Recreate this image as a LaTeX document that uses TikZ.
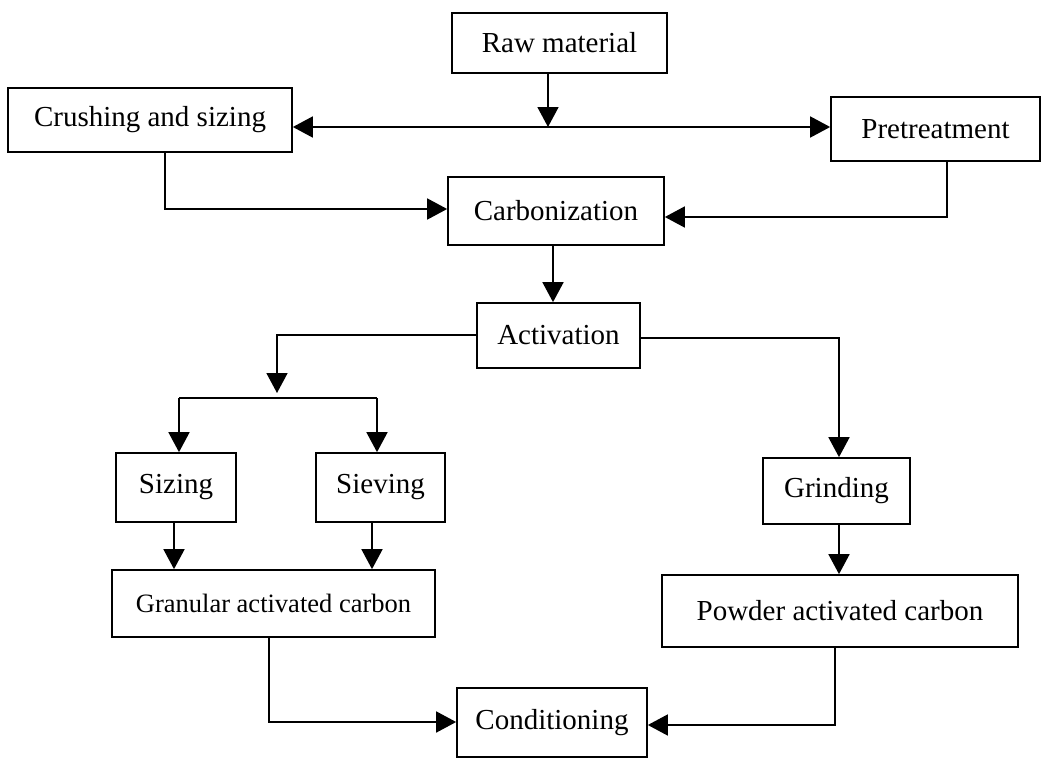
\documentclass[tikz,border=0pt]{standalone}
\usepackage{fontspec}
\setmainfont{Liberation Serif}
\usetikzlibrary{arrows.meta,calc}
\begin{document}
\begin{tikzpicture}[x=1pt,y=-1pt,
  box/.style={draw,line width=1.7pt,rectangle,inner sep=0pt,font=\fontsize{29}{32}\selectfont},
  link/.style={line width=1.7pt},
  arr/.style={line width=1.7pt,-{Triangle[length=20pt,width=21pt]}},
  darr/.style={line width=1.7pt,{Triangle[length=20pt,width=21pt]}-{Triangle[length=20pt,width=21pt]}}]
\useasboundingbox (0,0) rectangle (1047,760);
\node[box,minimum width=215pt,minimum height=60pt] (raw) at (559.5,43) {Raw material};
\node[box,minimum width=284pt,minimum height=64pt] (crush) at (150,120) {Crushing and sizing};
\node[box,minimum width=209pt,minimum height=64pt] (pre) at (935.5,129) {Pretreatment};
\node[box,minimum width=216pt,minimum height=68pt] (carb) at (556,211) {Carbonization};
\node[box,minimum width=163pt,minimum height=65pt] (act) at (558.5,335.5) {Activation};
\node[box,minimum width=120pt,minimum height=69pt] (siz) at (176,487.5) {Sizing};
\node[box,minimum width=129pt,minimum height=69pt] (siev) at (380.5,487.5) {Sieving};
\node[box,minimum width=147pt,minimum height=66pt] (grind) at (836.5,491) {Grinding};
\node[box,minimum width=323pt,minimum height=67pt,font=\fontsize{26.5}{29}\selectfont] (gran) at (273.5,603.5) {Granular activated carbon};
\node[box,minimum width=356pt,minimum height=72pt] (powder) at (840,611) {Powder activated carbon};
\node[box,minimum width=190pt,minimum height=69pt] (cond) at (552,722.5) {Conditioning};
% junction points
\coordinate (j1) at (548,127);
\coordinate (c1) at (165,209);
\coordinate (c2) at (947,217);
\coordinate (c3) at (553,0);
\coordinate (c4) at (277,335);
\coordinate (c5) at (277,393);
\coordinate (c6) at (179,398);
\coordinate (c7) at (377,398);
\coordinate (c8) at (839,338);
\coordinate (c9) at (174,0);
\coordinate (c10) at (372,0);
\coordinate (c11) at (269,722);
\coordinate (c12) at (835,725);
% connectors
\draw[arr] (raw.south -| j1) -- (j1);
\draw[darr] (crush.east |- j1) -- (pre.west |- j1);
\draw[arr] (crush.south -| c1) -- (c1) -- (carb.west |- c1);
\draw[arr] (pre.south -| c2) -- (c2) -- (carb.east |- c2);
\draw[arr] (carb.south -| c3) -- (act.north -| c3);
\draw[arr] (act.west |- c4) -- (c4) -- (c5);
\draw[link] (c6) -- (c7);
\draw[arr] (c6) -- (siz.north -| c6);
\draw[arr] (c7) -- (siev.north -| c7);
\draw[arr] (act.east |- c8) -- (c8) -- (grind.north -| c8);
\draw[arr] (grind.south -| c8) -- (powder.north -| c8);
\draw[arr] (siz.south -| c9) -- (gran.north -| c9);
\draw[arr] (siev.south -| c10) -- (gran.north -| c10);
\draw[arr] (gran.south -| c11) -- (c11) -- (cond.west |- c11);
\draw[arr] (powder.south -| c12) -- (c12) -- (cond.east |- c12);
\end{tikzpicture}
\end{document}
